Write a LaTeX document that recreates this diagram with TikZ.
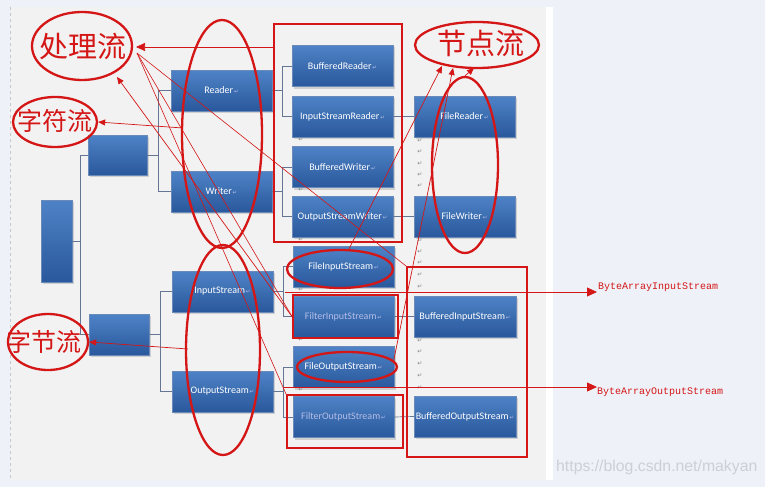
\documentclass[tikz,border=0pt]{standalone}
\usepackage{fontspec}
\setmainfont{Carlito}
\newfontfamily\cjk{Noto Sans CJK SC}
\newfontfamily\symf{DejaVu Sans}
\newfontfamily\monof{Liberation Mono}
\newfontfamily\wmf{Liberation Sans}
\usetikzlibrary{arrows.meta,shapes.geometric,shadows}
\definecolor{outerbg}{RGB}{238,242,248}
\definecolor{panel}{RGB}{242,242,242}
\definecolor{btop}{RGB}{78,130,198}
\definecolor{bbot}{RGB}{42,88,156}
\definecolor{tline}{RGB}{100,118,148}
\definecolor{ink}{RGB}{212,22,22}
\definecolor{faint}{RGB}{180,190,230}
\definecolor{retc}{RGB}{130,130,130}
\definecolor{wm}{RGB}{204,208,214}
\newcommand\retmark{{\symf\fontsize{5.5}{6}\selectfont\color{faint}\,↵}}
\begin{document}
\begin{tikzpicture}[x=1pt,y=-1pt,
  jbox/.style={top color=btop, bottom color=bbot, draw=bbot!70!white, line width=0.4pt,
    text=white, font=\fontsize{10}{12}\selectfont, minimum width=101pt, minimum height=41pt,
    inner sep=0pt, drop shadow={shadow xshift=2pt, shadow yshift=-2pt, opacity=0.3}},
  fbox/.style={jbox, text=faint},
  tl/.style={draw=tline, line width=0.7pt},
  redell/.style={ellipse, draw=ink, line width=2.3pt, inner sep=0pt},
  redrect/.style={draw=ink, line width=2pt, inner sep=0pt},
  hand/.style={text=ink, inner sep=0pt},
  thinred/.style={draw=ink, line width=0.6pt},
  redarr/.style={draw=ink, line width=0.7pt, -{Triangle[length=7pt,width=6pt]}},
  bigarr/.style={draw=ink, line width=0.8pt, -{Triangle[length=10pt,width=9pt]}},
  retn/.style={font=\symf\fontsize{6}{6}\selectfont, text=retc, inner sep=0pt}]
\useasboundingbox (0,0) rectangle (765,487);
\fill[outerbg] (0,0) rectangle (765,487);
\fill[panel] (10,7) rectangle (546,480);
\fill[white] (546,7) rectangle (553,480);
\draw[gray!45, dashed, line width=0.5pt] (10,7) -- (10,480);

% blue boxes
\node[jbox, minimum width=31pt, minimum height=82pt] (root) at (56.5,241) {};
\node[jbox, minimum width=59pt, minimum height=40pt] (charb) at (117.5,155) {};
\node[jbox, minimum width=60pt, minimum height=41pt] (byteb) at (119,334.5) {};
\node[jbox] (reader) at (221.5,90.5) {Reader\retmark};
\node[jbox] (writer) at (221.5,191.5) {Writer\retmark};
\node[jbox] (instream) at (222.5,291.5) {InputStream\retmark};
\node[jbox] (outstream) at (222.5,391.5) {OutputStream\retmark};
\node[jbox] (bufreader) at (342.5,66) {BufferedReader\retmark};
\node[jbox] (isr) at (342.5,116.5) {InputStreamReader\retmark};
\node[jbox] (bufwriter) at (342.5,167) {BufferedWriter\retmark};
\node[jbox] (osw) at (342.5,216.5) {OutputStreamWriter\retmark};
\node[jbox] (filereader) at (464.5,116.5) {FileReader\retmark};
\node[jbox] (filewriter) at (464.5,216.5) {FileWriter\retmark};
\node[jbox] (fis) at (343.5,266.5) {FileInputStream\retmark};
\node[fbox] (filtis) at (343.5,316.5) {FilterInputStream\retmark};
\node[jbox] (fos) at (343.5,367) {FileOutputStream\retmark};
\node[fbox] (filtos) at (343.5,417) {FilterOutputStream\retmark};
\node[jbox, minimum width=102pt] (bis) at (465,316.5) {BufferedInputStream\retmark};
\node[jbox, minimum width=102pt] (bos) at (465,416.5) {BufferedOutputStream\retmark};

% tree connectors
\draw[tl] (root.east) -- ++(8,0) coordinate (j0);
\draw[tl] (j0) |- (charb.west);
\draw[tl] (j0) |- (byteb.west);
\draw[tl] (charb.east) -- ++(11,0) coordinate (j1);
\draw[tl] (j1) |- (reader.west);
\draw[tl] (j1) |- (writer.west);
\draw[tl] (byteb.east) -- ++(11,0) coordinate (j2);
\draw[tl] (j2) |- (instream.west);
\draw[tl] (j2) |- (outstream.west);
\draw[tl] (reader.east) -- ++(10,0) coordinate (j3);
\draw[tl] (j3) |- (bufreader.west);
\draw[tl] (j3) |- (isr.west);
\draw[tl] (writer.east) -- ++(10,0) coordinate (j4);
\draw[tl] (j4) |- (bufwriter.west);
\draw[tl] (j4) |- (osw.west);
\draw[tl] (instream.east) -- ++(10,0) coordinate (j5);
\draw[tl] (j5) |- (fis.west);
\draw[tl] (j5) |- (filtis.west);
\draw[tl] (outstream.east) -- ++(10,0) coordinate (j6);
\draw[tl] (j6) |- (fos.west);
\draw[tl] (j6) |- (filtos.west);
\draw[tl] (isr.east) -- (filereader.west);
\draw[tl] (osw.east) -- (filewriter.west);
\draw[tl] (filtis.east) -- (bis.west);
\draw[tl] (filtos.east) -- (bos.west);

% paragraph marks
\foreach \yy [count=\i] in {141,152,164,175,186,241,252,263,275,287,341,352,364,376,388}
  \node[retn] (rc\i) at (420,\yy) {↵};
\foreach \yy [count=\i] in {140,190,240,290,340,390}
  \node[retn] (rl\i) at (301,\yy) {↵};

% red annotations
\node[redell, minimum width=100pt, minimum height=68pt] (chuli) at (82,46) {};
\node[hand, font=\cjk\fontsize{29}{29}\selectfont] (chulit) at (83,46) {处理流};
\node[redell, minimum width=84pt, minimum height=50pt] (zifu) at (55,122) {};
\node[hand, font=\cjk\fontsize{25}{25}\selectfont] (zifut) at (55,121) {字符流};
\node[redell, minimum width=80pt, minimum height=56pt] (zijie) at (48,342) {};
\node[hand, font=\cjk\fontsize{25}{25}\selectfont] (zijiet) at (44,342) {字节流};
\node[redell, minimum width=124pt, minimum height=46pt] (jiedian) at (477,45) {};
\node[hand, font=\cjk\fontsize{29}{29}\selectfont] (jiediant) at (481,43) {节点流};

\node[redell, minimum width=80pt, minimum height=228pt] (rwell) at (222,134) {};
\node[redell, minimum width=74pt, minimum height=210pt] (ioell) at (223,350) {};
\node[redell, minimum width=66pt, minimum height=176pt] (fileell) at (465,165) {};
\node[redell, minimum width=106pt, minimum height=38pt] (fisell) at (340,269) {};
\node[redell, minimum width=100pt, minimum height=30pt] (fosell) at (347,367) {};

\node[redrect, minimum width=128pt, minimum height=218pt] (r1) at (338,133) {};
\node[redrect, minimum width=105pt, minimum height=43pt] (r2) at (345.5,316.5) {};
\node[redrect, minimum width=116pt, minimum height=53pt] (r3) at (345,421.5) {};
\node[redrect, minimum width=120pt, minimum height=190pt] (r5) at (467,362) {};

% red arrows
\coordinate (tip) at (136,47);
\coordinate (tip2) at (137,53);
\coordinate (tipb) at (117,77);
\draw[redarr, -{Triangle[length=9pt,width=8pt]}] (r1.west |- tip) -- (tip);
\draw[thinred] (r5.north west) -- (tip2);
\draw[thinred] (r2.west) -- (tip2);
\draw[thinred] (r3.north west) -- (tip2);
\draw[redarr] (r2.west) -- (tipb);

\coordinate (rwl) at (183,128);
\draw[redarr] (rwl) -- (zifu.east);
\coordinate (iol) at (188,349);
\draw[redarr] (iol) -- (zijie.east);

\coordinate (ja) at (442,66);
\coordinate (jb) at (453,68);
\coordinate (jc) at (474,68);
\draw[redarr] ([xshift=9pt]fisell.north) -- (ja);
\draw[redarr] (fosell.8) -- (jb);
\draw[redarr] (fileell.north) -- (jc);

\coordinate (ba1) at (285,292);
\coordinate (ba1e) at (597,292);
\coordinate (ba2) at (283,387);
\coordinate (ba2e) at (597,387);
\draw[bigarr] (ba1) -- (ba1e);
\draw[bigarr] (ba2) -- (ba2e);
\node[anchor=west, inner sep=0pt, text=ink, font=\monof\fontsize{10}{10}\selectfont] (bai) at (598,287) {ByteArrayInputStream};
\node[anchor=west, inner sep=0pt, text=ink, font=\monof\fontsize{10}{10}\selectfont] (bao) at (597,392) {ByteArrayOutputStream};

\node[anchor=west, inner sep=0pt, text=wm, font=\wmf\fontsize{15.8}{16}\selectfont] (wmk) at (556,467) {https://blog.csdn.net/makyan};
\end{tikzpicture}
\end{document}
